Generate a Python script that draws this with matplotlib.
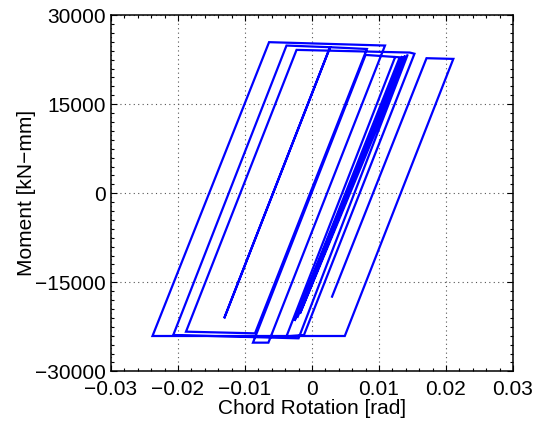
import numpy as np
import matplotlib.pyplot as plt
from matplotlib.ticker import MultipleLocator

# hysteresis path: chord rotation [rad] and moment [kN-mm]
rotation = [0.0030, 0.0171, 0.0211, 0.0049, -0.0238, -0.0064, 0.0109, -0.0065,
            -0.0088, 0.0080, 0.0131, -0.0026, 0.0135, -0.0022, 0.0139, -0.0018,
            0.0143, -0.0020, -0.0207, -0.0038, 0.0027, -0.0131, 0.0027, 0.0082,
            -0.0085, -0.0188, -0.0023, 0.0146, 0.0153, -0.0012, -0.0038, 0.0124]
moment = [-17420, 22750, 22630, -24050, -24050, 25450, 24880, -25170,
          -25170, 23300, 22900, -21500, 23100, -21000, 23200, -20300,
          23400, -24440, -23880, 24880, 24600, -21070, 24600, 24300,
          -23600, -23320, 24150, 23700, 23500, -23900, -24100, 22900]

xticks = [-0.03, -0.02, -0.01, 0, 0.01, 0.02, 0.03]
xticklabels = ['\u22120.03', '\u22120.02', '\u22120.01', '0', '0.01', '0.02', '0.03']
yticks = [-30000, -15000, 0, 15000, 30000]
yticklabels = ['\u221230000', '\u221215000', '0', '15000', '30000']

plt.rcParams['font.family'] = ['Liberation Sans', 'DejaVu Sans']

fig = plt.figure(figsize=(5.36, 4.21), dpi=100)
ax = fig.add_axes([0.207, 0.118, 0.750, 0.846])

ax.plot(rotation, moment, color='#0000ff', lw=1.6, solid_joinstyle='miter')

ax.set_xlim(-0.03, 0.03)
ax.set_ylim(-30000, 30000)
ax.set_xticks(xticks)
ax.set_xticklabels(xticklabels)
ax.set_yticks(yticks)
ax.set_yticklabels(yticklabels)
ax.xaxis.set_minor_locator(MultipleLocator(0.002))
ax.yaxis.set_minor_locator(MultipleLocator(1500))

ax.tick_params(which='both', direction='in', top=True, right=True, labelsize=15,
               width=0.8, color='black')
ax.tick_params(which='major', length=4)
ax.tick_params(which='minor', length=2.5)
ax.tick_params(axis='x', which='major', pad=6)
ax.tick_params(axis='y', which='major', pad=4)

ax.grid(True, which='major', linestyle=(0, (1, 3)), color='#555555', lw=0.8)
for s in ax.spines.values():
    s.set_linewidth(1.1)

ax.set_xlabel('Chord Rotation [rad]', fontsize=15, labelpad=0)
ax.set_ylabel('Moment [kN\u2212mm]', fontsize=15, labelpad=-1)

fig.savefig('out.png', dpi=100)
